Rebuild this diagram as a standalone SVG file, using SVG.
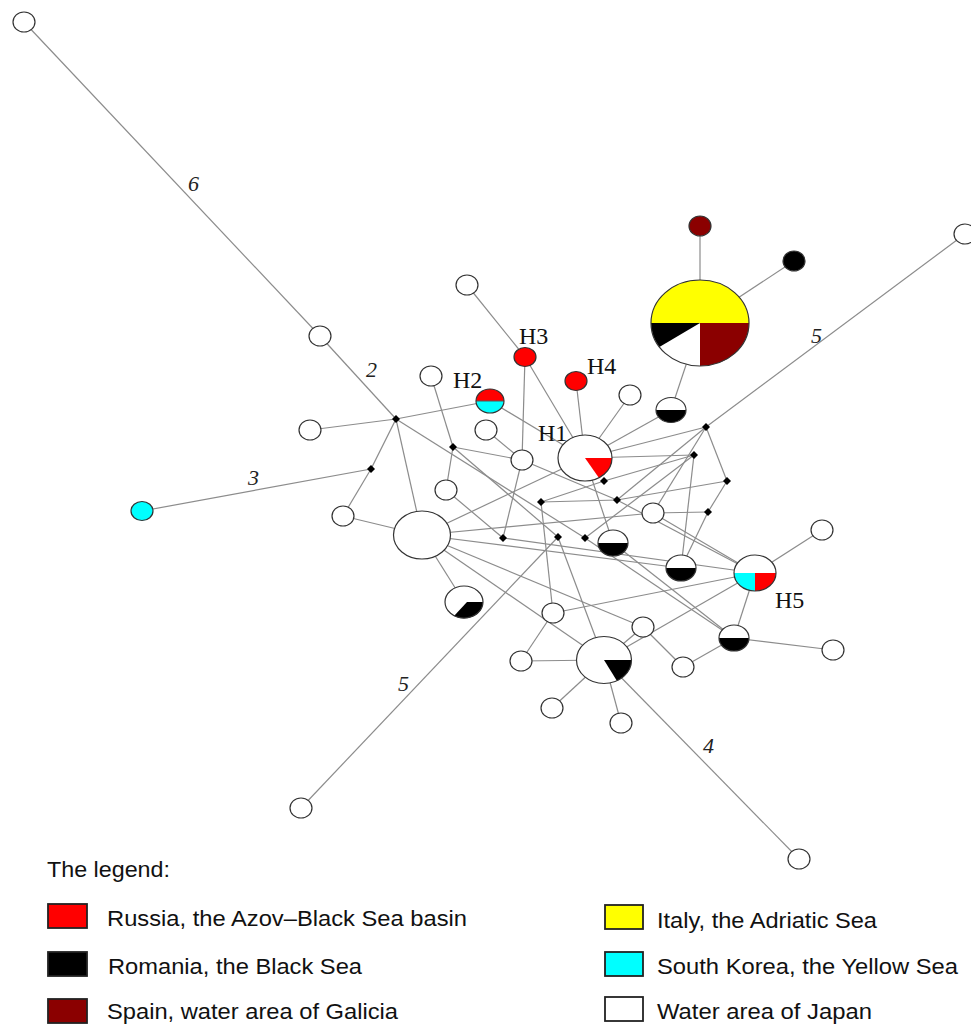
<svg xmlns="http://www.w3.org/2000/svg" xmlns:xlink="http://www.w3.org/1999/xlink" width="971" height="1025" viewBox="0 0 971 1025">
<defs>
<style>
.e{stroke:#8c8c8c;stroke-width:1.2;fill:none}
.n{stroke:#333;stroke-width:1.2}
.o{fill:none;stroke:#333;stroke-width:1.2}
.w{fill:#fff}
.lbl{font-family:"Liberation Serif","Times New Roman",serif;font-size:24px;fill:#111}
.num{font-family:"Liberation Serif","Times New Roman",serif;font-style:italic;font-size:22px;fill:#222}
.leg{font-family:"Liberation Sans",Arial,sans-serif;font-size:22px;fill:#111}
.box{stroke:#222;stroke-width:1.8}
</style>
<path id="dm" d="M0,-4 L4,0 L0,4 L-4,0Z" fill="#000"/>
</defs>
<rect width="971" height="1025" fill="#fff"/>
<g id="connectors" class="e">
<line x1="24" y1="22" x2="320" y2="336"/>
<line x1="320" y1="336" x2="396" y2="419"/>
<line x1="396" y1="419" x2="310" y2="430"/>
<line x1="396" y1="419" x2="490" y2="401"/>
<line x1="396" y1="419" x2="371" y2="469"/>
<line x1="371" y1="469" x2="142" y2="511"/>
<line x1="371" y1="469" x2="343" y2="516"/>
<line x1="396" y1="419" x2="422" y2="535"/>
<line x1="343" y1="516" x2="422" y2="535"/>
<line x1="396" y1="419" x2="585" y2="538"/>
<line x1="585" y1="538" x2="734" y2="638"/>
<line x1="467" y1="285" x2="525" y2="357"/>
<line x1="525" y1="357" x2="522" y2="460"/>
<line x1="525" y1="357" x2="585" y2="458"/>
<line x1="576" y1="381" x2="585" y2="458"/>
<line x1="630" y1="395" x2="585" y2="458"/>
<line x1="490" y1="401" x2="585" y2="458"/>
<line x1="486" y1="430" x2="522" y2="460"/>
<line x1="431" y1="376" x2="453" y2="447"/>
<line x1="453" y1="447" x2="522" y2="460"/>
<line x1="453" y1="447" x2="446" y2="490"/>
<line x1="522" y1="460" x2="503" y2="538"/>
<line x1="446" y1="490" x2="503" y2="538"/>
<line x1="503" y1="538" x2="755" y2="573"/>
<line x1="422" y1="535" x2="585" y2="458"/>
<line x1="422" y1="535" x2="653" y2="513"/>
<line x1="422" y1="535" x2="681" y2="568"/>
<line x1="422" y1="535" x2="464" y2="602"/>
<line x1="422" y1="535" x2="604" y2="660"/>
<line x1="422" y1="535" x2="643" y2="627"/>
<line x1="453" y1="447" x2="558" y2="537"/>
<line x1="558" y1="537" x2="301" y2="808"/>
<line x1="558" y1="537" x2="604" y2="660"/>
<line x1="541" y1="502" x2="553" y2="613"/>
<line x1="541" y1="502" x2="604" y2="481"/>
<line x1="541" y1="502" x2="617" y2="500"/>
<line x1="553" y1="613" x2="521" y2="661"/>
<line x1="553" y1="613" x2="755" y2="573"/>
<line x1="604" y1="660" x2="521" y2="661"/>
<line x1="604" y1="660" x2="552" y2="708"/>
<line x1="604" y1="660" x2="621" y2="723"/>
<line x1="604" y1="660" x2="799" y2="859"/>
<line x1="604" y1="660" x2="643" y2="627"/>
<line x1="604" y1="660" x2="755" y2="573"/>
<line x1="643" y1="627" x2="683" y2="667"/>
<line x1="734" y1="638" x2="683" y2="667"/>
<line x1="734" y1="638" x2="833" y2="650"/>
<line x1="734" y1="638" x2="755" y2="573"/>
<line x1="755" y1="573" x2="822" y2="530"/>
<line x1="585" y1="458" x2="671" y2="410"/>
<line x1="671" y1="410" x2="700" y2="323"/>
<line x1="700" y1="323" x2="700" y2="226"/>
<line x1="700" y1="323" x2="794" y2="261"/>
<line x1="585" y1="458" x2="613" y2="543"/>
<line x1="613" y1="543" x2="734" y2="638"/>
<line x1="585" y1="458" x2="706" y2="427"/>
<line x1="585" y1="458" x2="694" y2="455"/>
<line x1="706" y1="427" x2="965" y2="234"/>
<line x1="706" y1="427" x2="727" y2="481"/>
<line x1="727" y1="481" x2="708" y2="512"/>
<line x1="708" y1="512" x2="653" y2="513"/>
<line x1="708" y1="512" x2="681" y2="568"/>
<line x1="694" y1="455" x2="681" y2="568"/>
<line x1="706" y1="427" x2="617" y2="500"/>
<line x1="706" y1="427" x2="653" y2="513"/>
<line x1="694" y1="455" x2="604" y2="481"/>
<line x1="694" y1="455" x2="585" y2="538"/>
<line x1="727" y1="481" x2="617" y2="500"/>
<line x1="522" y1="460" x2="617" y2="500"/>
<line x1="617" y1="500" x2="755" y2="573"/>
<line x1="653" y1="513" x2="755" y2="573"/>
</g>
<g id="median-vectors">
<use xlink:href="#dm" x="396" y="419"/>
<use xlink:href="#dm" x="371" y="469"/>
<use xlink:href="#dm" x="453" y="447"/>
<use xlink:href="#dm" x="541" y="502"/>
<use xlink:href="#dm" x="503" y="538"/>
<use xlink:href="#dm" x="558" y="537"/>
<use xlink:href="#dm" x="585" y="538"/>
<use xlink:href="#dm" x="604" y="481"/>
<use xlink:href="#dm" x="617" y="500"/>
<use xlink:href="#dm" x="706" y="427"/>
<use xlink:href="#dm" x="694" y="455"/>
<use xlink:href="#dm" x="727" y="481"/>
<use xlink:href="#dm" x="708" y="512"/>
</g>
<g id="white-nodes" class="n w">
<ellipse id="nA" cx="24" cy="22" rx="11" ry="10"/>
<ellipse id="nB" cx="320" cy="336" rx="11" ry="10"/>
<ellipse id="nC" cx="467" cy="285" rx="11" ry="10"/>
<ellipse id="nD" cx="431" cy="376" rx="11" ry="10"/>
<ellipse id="nE" cx="310" cy="430" rx="11" ry="10"/>
<ellipse id="nF" cx="486" cy="430" rx="11" ry="10"/>
<ellipse id="nG" cx="522" cy="460" rx="11" ry="10"/>
<ellipse id="nH" cx="446" cy="490" rx="11" ry="10"/>
<ellipse id="nI" cx="343" cy="516" rx="11" ry="10"/>
<ellipse id="nJ" cx="422" cy="535" rx="28.5" ry="24"/>
<ellipse id="nK" cx="630" cy="395" rx="11" ry="10"/>
<ellipse id="nL" cx="653" cy="513" rx="11" ry="10"/>
<ellipse id="nM" cx="822" cy="530" rx="11" ry="10"/>
<ellipse id="nN" cx="553" cy="613" rx="11" ry="10"/>
<ellipse id="nO" cx="643" cy="627" rx="11" ry="10"/>
<ellipse id="nP" cx="521" cy="661" rx="11" ry="10"/>
<ellipse id="nQ" cx="683" cy="667" rx="11" ry="10"/>
<ellipse id="nR" cx="833" cy="650" rx="11" ry="10"/>
<ellipse id="nS" cx="552" cy="708" rx="11" ry="10"/>
<ellipse id="nT" cx="621" cy="723" rx="11" ry="10"/>
<ellipse id="nU" cx="301" cy="808" rx="11" ry="10"/>
<ellipse id="nV" cx="799" cy="859" rx="11" ry="10"/>
<ellipse id="nW" cx="965" cy="234" rx="11" ry="10"/>
</g>
<g id="cyan-node"><ellipse cx="142" cy="511" rx="11" ry="9.5" fill="#00ffff" class="n"/></g>
<g id="red-dark-node"><ellipse cx="700" cy="226" rx="11" ry="10" fill="#8b0000" class="n"/></g>
<g id="black-node"><ellipse cx="794" cy="261" rx="11" ry="10" fill="#000" class="n"/></g>
<g id="H3"><ellipse cx="525" cy="357" rx="11" ry="9.5" fill="#ff0000" class="n"/></g>
<g id="H4"><ellipse cx="576" cy="381" rx="11" ry="9.5" fill="#ff0000" class="n"/></g>
<g id="H2">
<path d="M476,401 A14 12 0 0 1 504,401 Z" fill="#ff0000"/>
<path d="M504,401 A14 12 0 0 1 476,401 Z" fill="#00ffff"/>
<line x1="476" y1="401" x2="504" y2="401" stroke="#555" stroke-width="1"/>
<ellipse cx="490" cy="401" rx="14" ry="12" class="o"/>
</g>
<g id="H1">
<ellipse cx="585" cy="458" rx="27" ry="23" fill="#fff"/>
<path d="M585,458 L612,458 A27 23 0 0 1 599,478 Z" fill="#ff0000"/>
<ellipse cx="585" cy="458" rx="27" ry="23" class="o"/>
</g>
<g id="H5">
<ellipse cx="755" cy="573" rx="21" ry="18" fill="#fff"/>
<path d="M755,573 L776,573 A21 18 0 0 1 755,591 Z" fill="#ff0000"/>
<path d="M755,573 L755,591 A21 18 0 0 1 734,573 Z" fill="#00ffff"/>
<ellipse cx="755" cy="573" rx="21" ry="18" class="o"/>
</g>
<g id="nY">
<path d="M651,323 A49 43 0 0 1 749,323 Z" fill="#ffff00"/>
<path d="M700,323 L749,323 A49 43 0 0 1 700,366 Z" fill="#8b0000"/>
<path d="M700,323 L700,366 A49 43 0 0 1 659.4,347 Z" fill="#fff"/>
<path d="M700,323 L659.4,347 A49 43 0 0 1 651,323 Z" fill="#000"/>
<ellipse cx="700" cy="323" rx="49" ry="43" class="o"/>
</g>
<g id="hb1">
<ellipse cx="671" cy="410" rx="15" ry="12.5" fill="#fff"/>
<path d="M686,410 A15 12.5 0 0 1 656,410 Z" fill="#000"/>
<ellipse cx="671" cy="410" rx="15" ry="12.5" class="o"/>
</g>
<g id="hb2">
<ellipse cx="613" cy="543" rx="15" ry="13" fill="#fff"/>
<path d="M628,543 A15 13 0 0 1 598,543 Z" fill="#000"/>
<ellipse cx="613" cy="543" rx="15" ry="13" class="o"/>
</g>
<g id="hb3">
<ellipse cx="681" cy="568" rx="15" ry="13" fill="#fff"/>
<path d="M696,568 A15 13 0 0 1 666,568 Z" fill="#000"/>
<ellipse cx="681" cy="568" rx="15" ry="13" class="o"/>
</g>
<g id="hb4">
<ellipse cx="734" cy="638" rx="15" ry="13" fill="#fff"/>
<path d="M749,638 A15 13 0 0 1 719,638 Z" fill="#000"/>
<ellipse cx="734" cy="638" rx="15" ry="13" class="o"/>
</g>
<g id="bp">
<ellipse cx="464" cy="602" rx="19" ry="16" fill="#fff"/>
<path d="M467,602 L483,602 A19 16 0 0 1 454,616 Z" fill="#000"/>
<ellipse cx="464" cy="602" rx="19" ry="16" class="o"/>
</g>
<g id="nX">
<ellipse cx="604" cy="660" rx="27.5" ry="23.5" fill="#fff"/>
<path d="M604,660 L631.5,660 A27.5 23.5 0 0 1 617,681 Z" fill="#000"/>
<ellipse cx="604" cy="660" rx="27.5" ry="23.5" class="o"/>
</g>
<g id="labels">
<text class="lbl" x="538" y="441">H1</text>
<text class="lbl" x="453" y="388">H2</text>
<text class="lbl" x="519" y="344">H3</text>
<text class="lbl" x="587" y="374">H4</text>
<text class="lbl" x="775" y="608">H5</text>
<text class="num" x="188" y="191">6</text>
<text class="num" x="366" y="377">2</text>
<text class="num" x="248" y="485">3</text>
<text class="num" x="811" y="343">5</text>
<text class="num" x="398" y="691">5</text>
<text class="num" x="703" y="753">4</text>
</g>
<g id="legend">
<text class="leg" x="47" y="877" textLength="123" lengthAdjust="spacingAndGlyphs">The legend:</text>
<rect class="box" x="48" y="904" width="39" height="24" fill="#ff0000"/>
<text class="leg" x="107" y="926" textLength="360" lengthAdjust="spacingAndGlyphs">Russia, the Azov–Black Sea basin</text>
<rect class="box" x="48" y="952" width="39" height="24" fill="#000"/>
<text class="leg" x="108" y="974" textLength="254" lengthAdjust="spacingAndGlyphs">Romania, the Black Sea</text>
<rect class="box" x="48" y="999" width="39" height="24" fill="#8b0000"/>
<text class="leg" x="107" y="1019" textLength="291" lengthAdjust="spacingAndGlyphs">Spain, water area of Galicia</text>
<rect class="box" x="605" y="905" width="38" height="24" fill="#ffff00"/>
<text class="leg" x="657" y="928" textLength="220" lengthAdjust="spacingAndGlyphs">Italy, the Adriatic Sea</text>
<rect class="box" x="605" y="952" width="38" height="24" fill="#00ffff"/>
<text class="leg" x="657" y="974" textLength="301" lengthAdjust="spacingAndGlyphs">South Korea, the Yellow Sea</text>
<rect class="box" x="605" y="997" width="38" height="24" fill="#fff"/>
<text class="leg" x="657" y="1019" textLength="215" lengthAdjust="spacingAndGlyphs">Water area of Japan</text>
</g>
</svg>
